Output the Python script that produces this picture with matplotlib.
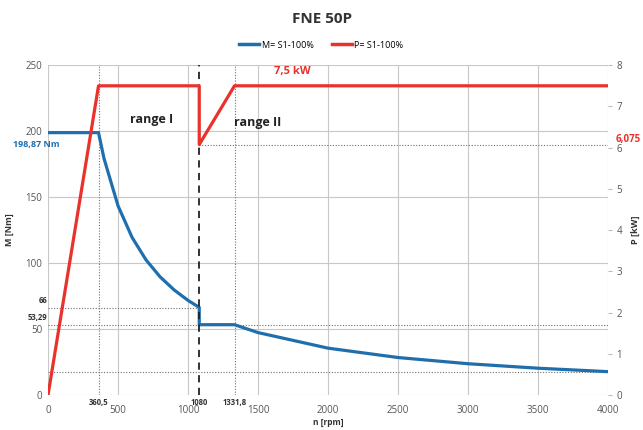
import matplotlib
matplotlib.use('Agg')
import matplotlib.pyplot as plt

plt.rcParams['font.family'] = ['Open Sans', 'DejaVu Sans']

# torque curve M (Nm) vs speed n (rpm)
n_m = [0, 360.5, 400, 500, 600, 700, 800, 900, 1000, 1080, 1080, 1331.8,
       1500, 2000, 2500, 3000, 3500, 4000]
m_vals = [198.87, 198.87, 179.2, 143.4, 119.5, 102.4, 89.6, 79.7, 71.7, 66.4,
          53.29, 53.29, 47.3, 35.5, 28.4, 23.7, 20.3, 17.7]

# power curve P (kW) vs speed n (rpm)
n_p = [0, 360.5, 1080, 1080, 1331.8, 4000]
p_vals = [0, 7.5, 7.5, 6.075, 7.5, 7.5]

n_marks = [360.5, 1080, 1331.8]
n_mark_labels = ['360,5', '1080', '1331,8']
m_marks = [66, 53.29]
m_mark_labels = ['66', '53,29']
m_end = 17.7
p_dip = 6.075

blue = '#1f6fae'
red = '#e8322b'
grid_c = '#c8c8c8'
dot_c = '#707070'

fig = plt.figure(figsize=(6.43, 4.30), dpi=100)
ax = fig.add_axes([0.0747, 0.0814, 0.871, 0.767])
ax2 = ax.twinx()

ax.set_xlim(0, 4000)
ax.set_ylim(0, 250)
ax2.set_ylim(0, 8)
ax.set_xticks(range(0, 4001, 500))
ax.set_yticks(range(0, 251, 50))
ax2.set_yticks(range(0, 9))

ax.grid(True, color=grid_c, lw=0.8)
ax.set_axisbelow(True)
for a in (ax, ax2):
    for s in a.spines.values():
        s.set_visible(False)
ax.tick_params(axis='y', length=0, labelsize=7, colors='#555555', pad=4)
ax.tick_params(axis='x', length=0, labelsize=7, colors='#555555', pad=7)
ax2.tick_params(axis='y', length=3, labelsize=7, colors='#555555', pad=3,
                color='#bbbbbb')

# reference lines
for xv in (n_marks[0], n_marks[2]):
    ax.axvline(xv, color=dot_c, lw=0.8, ls=(0, (1, 1.5)))
ax.axvline(n_marks[1], color='#222222', lw=1.3, ls=(0, (4, 3)), zorder=5)
ax.plot([0, 1080], [m_marks[0]] * 2, color=dot_c, lw=0.8, ls=(0, (1, 1.5)))
ax.plot([0, 4000], [m_marks[1]] * 2, color=dot_c, lw=0.8, ls=(0, (1, 1.5)))
ax.plot([0, 4000], [m_end] * 2, color=dot_c, lw=0.8, ls=(0, (1, 1.5)))
ax2.plot([1080, 4000], [p_dip] * 2, color=dot_c, lw=0.8, ls=(0, (1, 1.5)))

ax.plot(n_m, m_vals, color=blue, lw=2.3, zorder=4)
ax2.plot(n_p, p_vals, color=red, lw=2.3, zorder=4)

# legend
lm, = ax.plot([], [], color=blue, lw=2.5)
lp, = ax.plot([], [], color=red, lw=2.5)
fig.legend([lm, lp], ['M= S1-100%', 'P= S1-100%'], loc='center',
           bbox_to_anchor=(0.5, 0.895), ncol=2, frameon=False, fontsize=6.5,
           handlelength=2.2, columnspacing=2.0, handletextpad=0.3)

fig.text(0.5, 0.955, 'FNE 50P', ha='center', va='center', fontsize=11,
         fontweight='bold', color='#333333')

# annotations
fig.text(13 / 643, 1 - 144 / 430, '198,87 Nm', ha='left', va='center',
         fontsize=6.5, color=blue, fontweight='bold')
ax.text(0.436, 0.98, '7,5 kW', transform=ax.transAxes, ha='center',
        va='center', fontsize=8, color=red, fontweight='bold')
ax.text(1.013, 0.775, '6,075', transform=ax.transAxes, ha='left',
        va='center', fontsize=7, color=red, fontweight='bold')
ax.text(0.185, 0.835, 'range I', transform=ax.transAxes, ha='center',
        va='center', fontsize=9, fontweight='bold', color='#222222')
ax.text(0.375, 0.825, 'range II', transform=ax.transAxes, ha='center',
        va='center', fontsize=9, fontweight='bold', color='#222222')
for yv, lab in zip(m_marks, m_mark_labels):
    ax.text(-5, yv + 2, lab, ha='right', va='bottom', fontsize=5.5,
            fontweight='bold', color='#333333', clip_on=False)
for xv, lab in zip(n_marks, n_mark_labels):
    ax.text(xv, -2, lab, ha='center', va='top', fontsize=5.5,
            fontweight='bold', color='#333333', clip_on=False)

ax.set_xlabel('n [rpm]', fontsize=6, fontweight='bold', color='#333333',
              labelpad=2)
ax.set_ylabel('M [Nm]', fontsize=6.5, fontweight='bold', color='#333333',
              labelpad=8)
ax2.set_ylabel('P [kW]', fontsize=6.5, fontweight='bold', color='#333333',
               labelpad=6)

fig.savefig('out.png', dpi=100)
